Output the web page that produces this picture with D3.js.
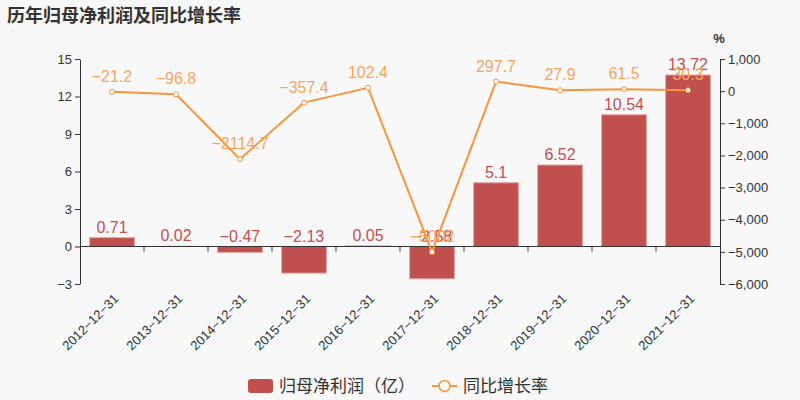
<!DOCTYPE html>
<html>
<head>
<meta charset="utf-8">
<script src="https://cdn.jsdelivr.net/npm/d3@7"></script>
<style>
  html,body{margin:0;padding:0;background:#f8f8f8;}
  svg{display:block;font-family:"Noto Sans CJK SC","Liberation Sans",sans-serif;}
</style>
</head>
<body>
<svg id="chart" width="800" height="400"></svg>
<script>
// data
const years = ["2012-12-31","2013-12-31","2014-12-31","2015-12-31","2016-12-31",
               "2017-12-31","2018-12-31","2019-12-31","2020-12-31","2021-12-31"];
const profit = [0.71, 0.02, -0.47, -2.13, 0.05, -2.58, 5.1, 6.52, 10.54, 13.72];
const growth = [-21.2, -96.8, -2114.7, -357.4, 102.4, -5002, 297.7, 27.9, 61.5, 30.3];
const leftTicks = [-3, 0, 3, 6, 9, 12, 15];
const rightTicks = [-6000, -5000, -4000, -3000, -2000, -1000, 0, 1000];

const BAR = "#c0504d", LINE = "#f7953f", LINE_TXT = "#f5a55f", AXIS = "#333";
const NUMFONT = "Liberation Sans, sans-serif";
const fmt = v => String(v).replace("-", "\u2212");

const svg = d3.select("#chart");
const L = 80, R = 720, T = 59, B = 284;

const x = d3.scaleBand().domain(years).range([L, R]).paddingInner(0.3).paddingOuter(0.15);
const xb = d3.scaleBand().domain(years).range([L, R]);
const y = d3.scaleLinear().domain([-3, 15]).range([B, T]);
const y2 = d3.scaleLinear().domain([-6000, 1000]).range([B, T]);

// title
svg.append("text").attr("x", 7).attr("y", 22)
  .attr("fill", "#333").style("font-size", "18px").style("font-weight", "bold")
  .text("历年归母净利润及同比增长率");

// left axis
const gl = svg.append("g").attr("transform", `translate(${L},0)`)
  .call(d3.axisLeft(y).tickValues(leftTicks).tickSize(5).tickSizeOuter(0).tickFormat(fmt));
gl.select(".domain").attr("stroke", AXIS);
gl.selectAll("line").attr("stroke", AXIS);
gl.selectAll("text").attr("fill", AXIS).style("font-size", "13px").style("font-family", NUMFONT);

// right axis
const gr = svg.append("g").attr("transform", `translate(${R},0)`)
  .call(d3.axisRight(y2).tickValues(rightTicks).tickSize(5).tickSizeOuter(0)
    .tickFormat(v => d3.format(",")(v).replace("-", "\u2212")));
gr.select(".domain").attr("stroke", AXIS);
gr.selectAll("line").attr("stroke", AXIS);
gr.selectAll("text").attr("fill", AXIS).style("font-size", "13px").style("font-family", NUMFONT);

svg.append("text").attr("x", 719).attr("y", 43).attr("text-anchor", "middle")
  .attr("fill", AXIS).style("font-size", "13px").style("font-weight", "bold")
  .style("font-family", NUMFONT).text("%");

// bars
svg.selectAll("rect.bar").data(years).join("rect").attr("class", "bar")
  .attr("x", d => x(d)).attr("width", x.bandwidth())
  .attr("y", (d, i) => y(Math.max(0, profit[i])))
  .attr("height", (d, i) => Math.abs(y(profit[i]) - y(0)))
  .attr("fill", BAR).attr("stroke", "#e6a3a1").attr("stroke-width", 1);

// x axis at zero
const gx = svg.append("g").attr("transform", `translate(0,${y(0)})`);
gx.append("line").attr("x1", L).attr("x2", R).attr("stroke", AXIS);
gx.selectAll("line.tk").data(years.slice(1)).join("line").attr("class", "tk")
  .attr("x1", d => xb(d)).attr("x2", d => xb(d)).attr("y1", 0).attr("y2", 5).attr("stroke", AXIS);

// x labels rotated
svg.selectAll("text.xl").data(years).join("text").attr("class", "xl")
  .attr("transform", d => `translate(${xb(d) + xb.bandwidth() / 2 + 1},${B + 9}) rotate(-45)`)
  .attr("text-anchor", "end").attr("dy", "0.7em")
  .attr("fill", AXIS).style("font-size", "13px").style("font-family", NUMFONT)
  .text(d => d.replace(/-/g, "\u2212"));

// bar labels
svg.selectAll("text.bl").data(years).join("text").attr("class", "bl")
  .attr("x", d => x(d) + x.bandwidth() / 2)
  .attr("y", (d, i) => y(Math.max(0, profit[i])) - 5)
  .attr("text-anchor", "middle").attr("fill", BAR)
  .style("font-size", "16px").style("font-family", NUMFONT)
  .text((d, i) => fmt(profit[i]));

// growth line
const cx = d => xb(d) + xb.bandwidth() / 2;
svg.append("path")
  .attr("d", d3.line().x(d => cx(d)).y((d, i) => y2(growth[i]))(years))
  .attr("fill", "none").attr("stroke", LINE).attr("stroke-width", 2);
svg.selectAll("circle.pt").data(years).join("circle").attr("class", "pt")
  .attr("cx", d => cx(d)).attr("cy", (d, i) => y2(growth[i])).attr("r", 2.5)
  .attr("fill", "#fff").attr("stroke", LINE).attr("stroke-width", 1);
svg.selectAll("text.gl").data(years).join("text").attr("class", "gl")
  .attr("x", d => cx(d)).attr("y", (d, i) => y2(growth[i]) - 10)
  .attr("text-anchor", "middle").attr("fill", LINE_TXT)
  .style("font-size", "16px").style("font-family", NUMFONT)
  .text((d, i) => fmt(growth[i]));

// legend
const lg = svg.append("g").attr("transform", "translate(0,386)");
lg.append("rect").attr("x", 248).attr("y", -7).attr("width", 25).attr("height", 14).attr("rx", 3).attr("fill", BAR);
lg.append("text").attr("x", 279).attr("y", 6).attr("fill", AXIS).style("font-size", "17px").text("归母净利润（亿）");
lg.append("line").attr("x1", 432).attr("x2", 457).attr("stroke", LINE).attr("stroke-width", 2);
lg.append("circle").attr("cx", 444.5).attr("cy", 0).attr("r", 5.5).attr("fill", "#fff").attr("stroke", LINE).attr("stroke-width", 1.5);
lg.append("text").attr("x", 463).attr("y", 6).attr("fill", AXIS).style("font-size", "17px").text("同比增长率");
</script>
</body>
</html>
